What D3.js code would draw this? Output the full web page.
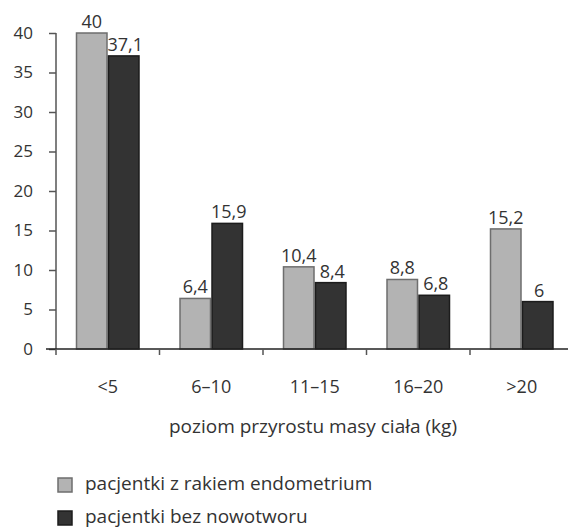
<!DOCTYPE html>
<html>
<head>
<meta charset="utf-8">
<script src="https://cdn.jsdelivr.net/npm/d3@7"></script>
<style>
  html, body { margin: 0; padding: 0; background: #fff; }
  svg text { font-family: "Open Sans", "DejaVu Sans", sans-serif; fill: #333; }
</style>
</head>
<body>
<svg id="chart" width="568" height="529"></svg>
<script>
// Weight-gain categories (kg)
const categories = ["<5", "6–10", "11–15", "16–20", ">20"];
// Percentages per group
const seriesNames = ["pacjentki z rakiem endometrium", "pacjentki bez nowotworu"];
const cancerValues = [40, 6.4, 10.4, 8.8, 15.2];
const controlValues = [37.1, 15.9, 8.4, 6.8, 6];
const yTicks = [0, 5, 10, 15, 20, 25, 30, 35, 40];
const xAxisTitle = "poziom przyrostu masy ciała (kg)";

const fills = ["#b3b3b3", "#333333"];
const strokes = ["#6e6e6e", "#1c1c1c"];

const svg = d3.select("#chart");
const plotLeft = 56, plotBottom = 349, plotTop = 33;
const step = 103.5;

const x = d3.scaleBand().domain(categories)
  .range([plotLeft, plotLeft + step * categories.length]).padding(0);
const inner = d3.scaleBand().domain([0, 1])
  .range([19.75, step - 19.75]).padding(0);
const y = d3.scaleLinear().domain([0, 40]).range([plotBottom, plotTop]);

const fmt = v => String(v).replace(".", ",");

const rows = categories.map((c, i) => ({
  cat: c,
  vals: [cancerValues[i], controlValues[i]]
}));

// Bars
const groups = svg.append("g").selectAll("g").data(rows).join("g")
  .attr("transform", d => `translate(${x(d.cat)},0)`);

groups.selectAll("rect").data(d => d.vals.map((v, k) => ({ v, k })))
  .join("rect")
  .attr("x", d => inner(d.k) + 0.75)
  .attr("y", d => y(d.v))
  .attr("width", inner.bandwidth() - 1.5)
  .attr("height", d => plotBottom - y(d.v))
  .attr("fill", d => fills[d.k])
  .attr("stroke", d => strokes[d.k])
  .attr("stroke-width", 1.5);

// Value labels
groups.selectAll("text").data(d => d.vals.map((v, k) => ({ v, k })))
  .join("text")
  .attr("x", d => inner(d.k) + inner.bandwidth() / 2 + (d.k ? 1.5 : 0))
  .attr("y", d => y(d.v) - 5)
  .attr("text-anchor", "middle")
  .attr("font-size", 18)
  .text(d => fmt(d.v));

// Y axis
const yAxis = svg.append("g").attr("transform", `translate(${plotLeft},0)`)
  .call(d3.axisLeft(y).tickValues(yTicks).tickSize(7).tickPadding(16).tickFormat(d => d));
yAxis.select(".domain").attr("stroke", "#555").attr("stroke-width", 1.5)
  .attr("d", `M0,${plotTop}V${plotBottom}`);
yAxis.selectAll(".tick line").attr("stroke", "#555").attr("stroke-width", 1.5);
yAxis.selectAll(".tick text").attr("font-size", 17).attr("fill", "#333")
  .attr("font-family", "Open Sans, sans-serif");

// X axis line with boundary ticks
svg.append("line")
  .attr("x1", plotLeft - 10).attr("x2", 568)
  .attr("y1", plotBottom).attr("y2", plotBottom)
  .attr("stroke", "#222").attr("stroke-width", 1.5);
const bounds = categories.map(c => x(c));
svg.append("g").selectAll("line").data(bounds).join("line")
  .attr("x1", d => d).attr("x2", d => d)
  .attr("y1", plotBottom).attr("y2", plotBottom + 6)
  .attr("stroke", "#555").attr("stroke-width", 1.5);

// Category labels
svg.append("g").selectAll("text").data(categories).join("text")
  .attr("x", d => x(d) + x.bandwidth() / 2)
  .attr("y", 393)
  .attr("text-anchor", "middle")
  .attr("font-size", 18)
  .text(d => d);

// Axis title
svg.append("text")
  .attr("x", 313).attr("y", 433)
  .attr("text-anchor", "middle")
  .attr("font-size", 19)
  .text(xAxisTitle);

// Legend
const legend = svg.append("g").selectAll("g").data(seriesNames).join("g")
  .attr("transform", (d, i) => `translate(58,${478 + i * 33})`);
legend.append("rect")
  .attr("width", 14).attr("height", 14)
  .attr("fill", (d, i) => fills[i])
  .attr("stroke", (d, i) => strokes[i])
  .attr("stroke-width", 1.5);
legend.append("text")
  .attr("x", 27).attr("y", 12)
  .attr("font-size", 19)
  .text(d => d);
</script>
</body>
</html>
